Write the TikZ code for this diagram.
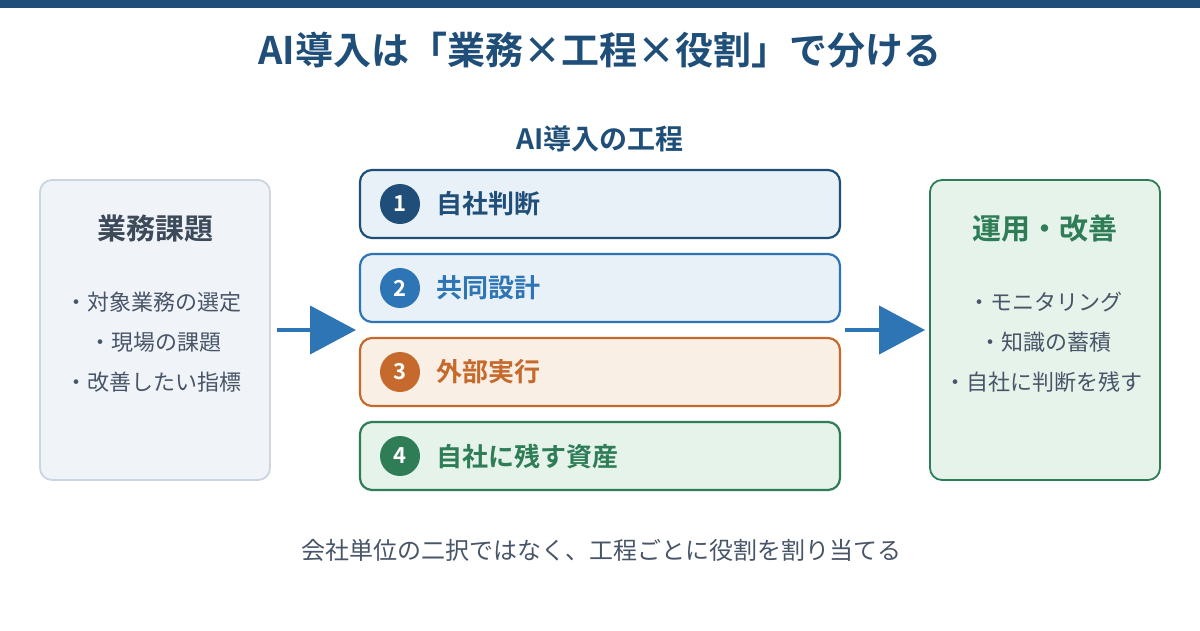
\documentclass[tikz,border=0pt]{standalone}
\usepackage{fontspec}
\setmainfont{Noto Sans CJK JP}[BoldFont={Noto Sans CJK JP Bold}]
\usetikzlibrary{arrows.meta,positioning}
\definecolor{navy}{RGB}{31,78,121}
\definecolor{blu}{RGB}{46,117,182}
\definecolor{org}{RGB}{197,106,44}
\definecolor{grn}{RGB}{46,125,87}
\definecolor{ink}{RGB}{61,74,90}
\definecolor{txt}{RGB}{72,85,104}
\tikzset{
  side/.style={rectangle,rounded corners=12pt,line width=1.8pt,
               minimum width=230pt,minimum height=300pt},
  stepbox/.style={rectangle,rounded corners=12pt,line width=2.2pt,
                  minimum width=480pt,minimum height=68pt},
  num/.style={circle,minimum size=40pt,inner sep=0pt,text=white,
              font=\fontsize{22}{24}\selectfont\bfseries},
  lab/.style={anchor=west,inner sep=0pt,font=\fontsize{26}{30}\selectfont\bfseries},
  hd/.style={font=\fontsize{29}{33}\selectfont\bfseries},
  itm/.style={text=txt,font=\fontsize{22}{25}\selectfont},
  ar/.style={-{Triangle[length=46pt,width=48pt]},line width=4pt,draw=blu},
}
\begin{document}
\begin{tikzpicture}[x=1pt,y=-1pt]
  \useasboundingbox[fill=white] (0,0) rectangle (1200,630);
  \fill[navy] (0,0) rectangle (1200,8);
  \node[text=navy,font=\fontsize{38}{42}\selectfont\bfseries] (title) at (600,50)
    {AI導入は「業務×工程×役割」で分ける};
  \node[text=navy,font=\fontsize{28}{32}\selectfont\bfseries] (sub) at (600,139) {AI導入の工程};
  % left and right boxes
  \node[side,draw={rgb,255:red,203;green,213;blue,225},fill={rgb,255:red,240;green,244;blue,248}] (task) at (155,330) {};
  \node[hd,text=ink] (taskh) at (155,229) {業務課題};
  \node[itm] (t1) at (153,302) {・対象業務の選定};
  \node[itm] (t2) at (155,342) {・現場の課題};
  \node[itm] (t3) at (153,382) {・改善したい指標};
  \node[side,draw=grn,fill={rgb,255:red,230;green,243;blue,234}] (out) at (1045,330) {};
  \node[hd,text=grn] (outh) at (1045,229) {運用・改善};
  \node[itm] (o1) at (1045,302) {・モニタリング};
  \node[itm] (o2) at (1045,342) {・知識の蓄積};
  \node[itm] (o3) at (1043,382) {・自社に判断を残す};
  % process steps
  \foreach \i/\y/\c/\f/\t in {1/204/navy/{rgb,255:red,232;green,240;blue,248}/自社判断,
                             2/288/blu/{rgb,255:red,232;green,240;blue,248}/共同設計,
                             3/372/org/{rgb,255:red,250;green,239;blue,229}/外部実行,
                             4/456/grn/{rgb,255:red,230;green,243;blue,234}/自社に残す資産}{
    \node[stepbox,draw=\c,fill=\f] (s\i) at (600,\y) {};
    \node[num,fill=\c] (n\i) at (400,\y) {\i};
    \node[lab,text=\c] (l\i) at (436,\y) {\t};
  }
  % arrows
  \coordinate (in1) at (356,330);
  \coordinate (out2) at (845,330);
  \draw[ar] ([xshift=6pt]task.east) -- (in1);
  \draw[ar] (out2) -- ([xshift=-4pt]out.west);
  \node[itm,font=\fontsize{24}{27}\selectfont] (foot) at (601,550)
    {会社単位の二択ではなく、工程ごとに役割を割り当てる};
\end{tikzpicture}
\end{document}
